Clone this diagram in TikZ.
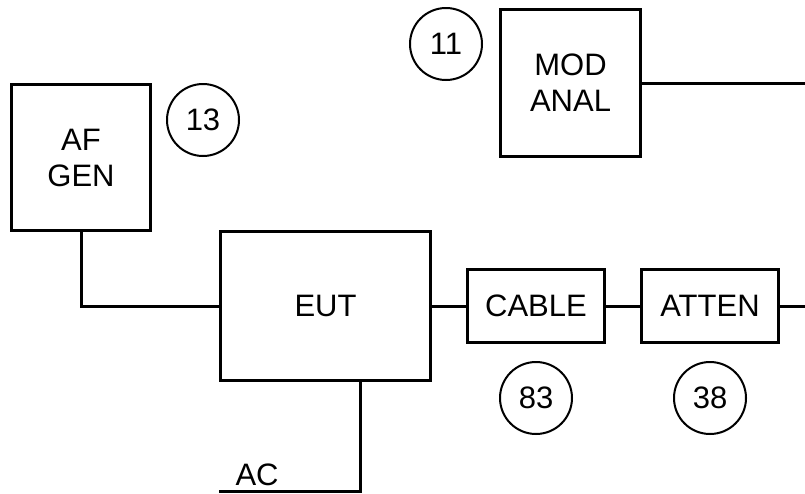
\documentclass[tikz,border=0pt]{standalone}
\usepackage{fontspec}
\setmainfont{Liberation Sans}
\usetikzlibrary{positioning}

\begin{document}
\begin{tikzpicture}[
  x=1pt, y=-1pt,
  font=\fontsize{31}{36}\selectfont,
  node distance=34pt,
  unit/.style={draw, line width=3pt, align=center, inner sep=0pt},
  bigunit/.style={unit, minimum width=140pt, minimum height=147pt},
  smallunit/.style={unit, minimum width=137pt, minimum height=73pt},
  tag/.style={draw, circle, line width=2pt, minimum size=72pt, inner sep=0pt},
  wire/.style={line width=3pt}
]
\useasboundingbox (0,0) rectangle (805,493);

% instruments
\node[bigunit, minimum width=139pt, minimum height=146pt] (afgen) at (81,157.5) {AF\\GEN};
\node[bigunit] (modanal) at (570.5,83) {MOD\\ANAL};
\node[unit, minimum width=210pt, minimum height=149pt] (eut) at (325.5,306) {EUT};
\node[smallunit, right=of eut] (cable) {CABLE};
\node[smallunit, right=of cable] (atten) {ATTEN};

% reference numbers
\node[tag] (n11) at (446,44) {11};
\node[tag] (n13) at (203,120) {13};
\node[tag, below=17pt of cable] (n83) {83};
\node[tag, below=17pt of atten] (n38) {38};

% free ends
\coordinate (modout) at (805,83);
\coordinate (attout) at (805,306);
\coordinate (acend) at (219,491);

\draw[wire] (modanal.east) -- (modout);
\draw[wire] (afgen.south) |- (eut.west);
\draw[wire] (eut.east) -- (cable.west);
\draw[wire] (cable.east) -- (atten.west);
\draw[wire] (atten.east) -- (attout);
\draw[wire] ([xshift=34.5pt]eut.south) |- (acend)
  node[pos=0.865, above, inner sep=4pt] {AC};

\end{tikzpicture}
\end{document}
